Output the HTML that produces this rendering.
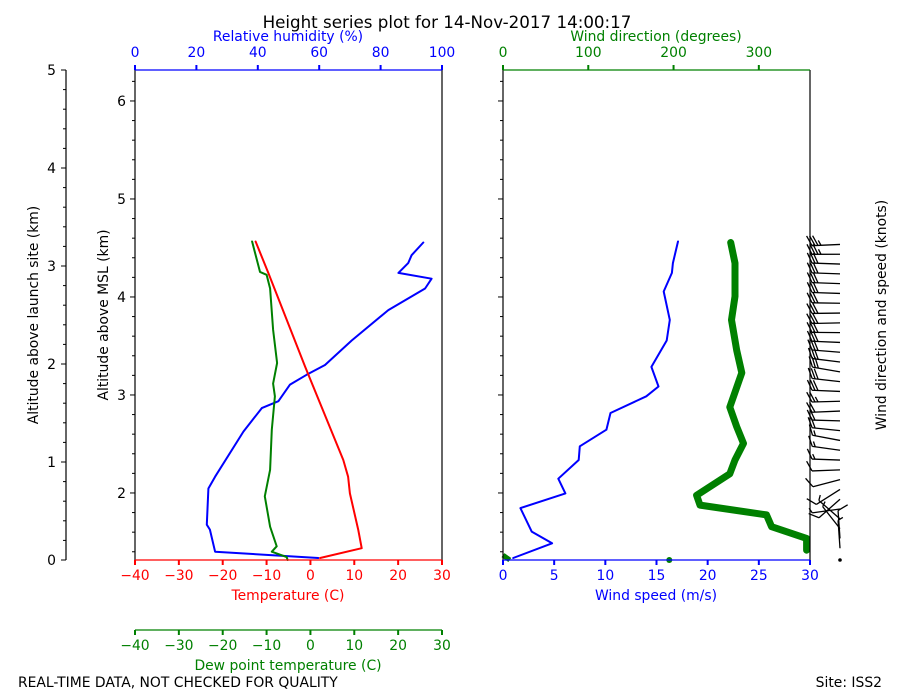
<!DOCTYPE html>
<html><head><meta charset="utf-8"><style>
body{margin:0;background:#fff}
svg{display:block;font-family:"DejaVu Sans","Liberation Sans",sans-serif}
</style></head><body>
<svg id="chart" width="900" height="700" xmlns="http://www.w3.org/2000/svg">
<rect width="900" height="700" fill="#fff"/>
<text x="447" y="28" font-size="16.7" text-anchor="middle">Height series plot for 14-Nov-2017 14:00:17</text>
<text x="18" y="687" font-size="13.9">REAL-TIME DATA, NOT CHECKED FOR QUALITY</text>
<text x="882" y="687" font-size="13.9" text-anchor="end">Site: ISS2</text>
<text transform="translate(38,315) rotate(-90)" font-size="13.9" text-anchor="middle">Altitude above launch site (km)</text>
<text transform="translate(108,315) rotate(-90)" font-size="13.9" text-anchor="middle">Altitude above MSL (km)</text>
<text transform="translate(886,315) rotate(-90)" font-size="13.9" text-anchor="middle">Wind direction and speed (knots)</text>
<text x="288" y="41" font-size="13.9" fill="#0000ff" text-anchor="middle">Relative humidity (%)</text>
<text x="288" y="600" font-size="13.9" fill="#ff0000" text-anchor="middle">Temperature (C)</text>
<text x="288" y="670" font-size="13.9" fill="#008000" text-anchor="middle">Dew point temperature (C)</text>
<text x="656" y="41" font-size="13.9" fill="#008000" text-anchor="middle">Wind direction (degrees)</text>
<text x="656" y="600" font-size="13.9" fill="#0000ff" text-anchor="middle">Wind speed (m/s)</text>
<g id="g"></g>
</svg>
<script>
// data (altitude above launch site, km)
const tempAlt=[0.02,0.12,0.31,0.68,0.85,1.02,1.97,2.93,3.25];
const tempVal=[2.2,11.7,10.9,9.0,8.6,7.5,-1.2,-9.6,-12.5];
const dewAlt=[0,0.03,0.085,0.14,0.34,0.65,0.92,1.33,1.67,1.8,2.01,2.35,2.77,2.91,2.94,3.25];
const dewVal=[-5.2,-5.4,-8.8,-7.7,-9.2,-10.4,-9.2,-8.8,-8.1,-8.5,-7.6,-8.5,-9.2,-10.0,-11.5,-13.3];
const rhAlt=[0.02,0.085,0.31,0.36,0.73,0.85,1.31,1.55,1.62,1.79,1.89,1.99,2.24,2.55,2.77,2.87,2.93,3.03,3.11,3.24];
const rhVal=[59.7,26.1,24.4,23.4,23.9,26.1,35.3,41.3,46.7,50.5,55.9,61.9,70.6,82.5,94.5,96.6,85.8,89.0,90.1,93.9];
const wsAlt=[0.02,0.17,0.29,0.53,0.68,0.83,1.02,1.16,1.33,1.5,1.67,1.77,1.97,2.24,2.45,2.74,2.93,3.03,3.25];
const wsVal=[1.0,4.8,2.8,1.7,6.1,5.4,7.4,7.5,10.1,10.5,14.0,15.2,14.5,16.0,16.3,15.7,16.5,16.6,17.1];
const wdAlt=[0.10,0.22,0.34,0.46,0.56,0.66,0.88,1.02,1.19,1.36,1.56,1.91,2.14,2.45,2.69,3.03,3.24];
const wdVal=[356,356,315,309,231,227,266,272,282,274,266,280,274,268,272,272,267];
const leftTicks=[0,1,2,3,4,5];
const mslTicks=[2,3,4,5,6];
const tTicks=[-40,-30,-20,-10,0,10,20,30];
const rhTicks=[0,20,40,60,80,100];
const wsTicks=[0,5,10,15,20,25,30];
const wdTicks=[0,100,200,300];
const launchMSL=1.316;

const NS='http://www.w3.org/2000/svg';
const G=document.getElementById('g');
const yA=a=>560-98*a;
const xT=t=>135+(t+40)*307/70;
const xRH=r=>135+r*3.07;
const xWS=s=>503+s*307/30;
const xWD=d=>503+d*307/360;
function el(tag,attrs,name,parent){const e=document.createElementNS(NS,tag);for(const k in attrs)e.setAttribute(k,attrs[k]);


(parent||G).appendChild(e);return e;}
function line(x1,y1,x2,y2,c,w,name){return el('line',{x1,y1,x2,y2,stroke:c,'stroke-width':w},name);}
function txt(x,y,s,c,anchor,name){const t=el('text',{x,y,'font-size':13.9,fill:c,'text-anchor':anchor},name);t.textContent=s;return t;}
function series(alts,vals,xf,c,w,name){const pts=alts.map((a,i)=>xf(vals[i]).toFixed(1)+','+yA(a).toFixed(1)).join(' ');
return el('polyline',{points:pts,fill:'none',stroke:c,'stroke-width':w,'stroke-linejoin':'round','stroke-linecap':'round'},name);}

series(rhAlt,rhVal,xRH,'#0000ff',2,'rh-line');
series(dewAlt,dewVal,xT,'#008000',2,'dewpoint-line');
series(tempAlt,tempVal,xT,'#ff0000',2,'temperature-line');
series(wsAlt,wsVal,xWS,'#0000ff',2,'wind-speed-line');
series(wdAlt,wdVal,xWD,'#008000',7,'wind-direction-line');
el('circle',{cx:xWD(195),cy:560,r:3,fill:'#008000'},'wind-direction-point');
el('polyline',{points:`${xWD(0)},${yA(0.05)} ${xWD(8)},${yA(0)}`,fill:'none',stroke:'#008000','stroke-width':5},'wind-direction-wrap');

line(135,70,135,560,'#000',1.2,'left-panel-left-spine');
line(442,70,442,560,'#000',1.2,'left-panel-right-spine');
line(135,70,442,70,'#0000ff',1.2,'rh-spine');
line(135,560,442,560,'#ff0000',1.2,'temperature-spine');
line(135,630,442,630,'#008000',1.2,'dewpoint-spine');
line(503,70,503,560,'#000',1.2,'right-panel-left-spine');
line(810,70,810,560,'#000',1.2,'right-panel-right-spine');
line(503,70,810,70,'#008000',1.2,'wind-direction-spine');
line(503,560,810,560,'#0000ff',1.2,'wind-speed-spine');
line(66,70,66,560,'#000',1.2,'launch-axis-spine');

for(let m=0;m<=25;m++){const y=560-m*19.6;line(m%5?63:61,y,66,y,'#000',1,'launch-tick');}
leftTicks.forEach(v=>txt(56,yA(v)+5,String(v),'#000','end','launch-tick-label'));
for(let v=1.4;v<=6.7;v+=0.2){const y=yA(v-launchMSL);if(y<70||y>560)continue;
const maj=Math.abs(v-Math.round(v))<0.01;line(maj?130:132,y,135,y,'#000',1,'msl-tick');line(maj?498:500,y,503,y,'#000',1,'wind-height-tick');}
mslTicks.forEach(v=>txt(126,yA(v-launchMSL)+5,String(v),'#000','end','msl-tick-label'));
tTicks.forEach(v=>{const x=xT(v);line(x,560,x,565,'#ff0000',2,'temperature-tick');txt(x,580,String(v).replace('-','\u2212'),'#ff0000','middle','temperature-tick-label');
line(x,630,x,635,'#008000',2,'dewpoint-tick');txt(x,650,String(v).replace('-','\u2212'),'#008000','middle','dewpoint-tick-label');});
rhTicks.forEach(v=>{const x=xRH(v);line(x,65,x,70,'#0000ff',2,'rh-tick');txt(x,57,String(v),'#0000ff','middle','rh-tick-label');});
wsTicks.forEach(v=>{const x=xWS(v);line(x,560,x,565,'#0000ff',2,'wind-speed-tick');txt(x,580,String(v),'#0000ff','middle','wind-speed-tick-label');});
wdTicks.forEach(v=>{const x=xWD(v);line(x,65,x,70,'#008000',2,'wind-direction-tick');txt(x,57,String(v),'#008000','middle','wind-direction-tick-label');});

function interp(as,vs,a){if(a<=as[0])return vs[0];for(let i=1;i<as.length;i++)if(a<=as[i]){const f=(a-as[i-1])/(as[i]-as[i-1]);return vs[i-1]+f*(vs[i]-vs[i-1]);}return vs[vs.length-1];}
el('circle',{cx:840,cy:560,r:1.8,fill:'#000'},'calm-barb');
for(let a=0.12;a<=3.26;a+=0.1){
 const y=yA(a),d=interp(wdAlt,wdVal,a)*Math.PI/180,kn=interp(wsAlt,wsVal,a)*1.944;
 const ux=Math.sin(d),uy=-Math.cos(d),L=28;const tx=840+ux*L,ty=y+uy*L;
 const b=el('g',{stroke:'#000','stroke-width':1.3,fill:'none'},'wind-barb');
 el('line',{x1:840,y1:y,x2:tx,y2:ty},'barb-staff',b);
 const px=-uy,py=ux;let n=Math.round(kn/5),pos=0;
 while(n>0){const sx=tx-ux*pos,sy=ty-uy*pos;const len=n>=2?10:5;
  el('line',{x1:sx,y1:sy,x2:sx+px*len+ux*len*0.5,y2:sy+py*len+uy*len*0.5},'barb-feather',b);
  n-=2;pos+=3;}
}
</script>
</body></html>
